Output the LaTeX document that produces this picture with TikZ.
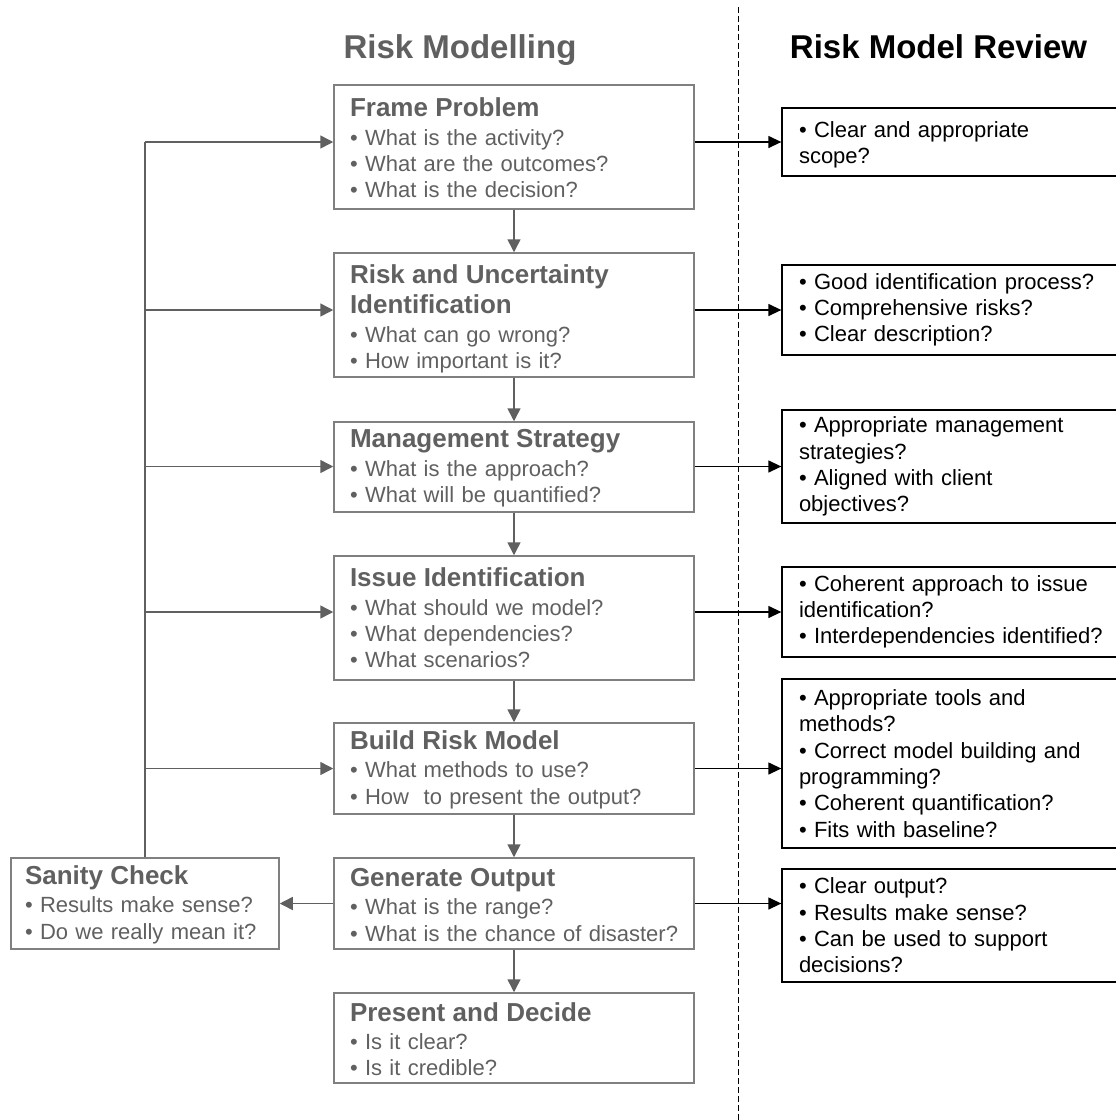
\documentclass[tikz,border=0pt]{standalone}
\usepackage{fontspec}
\setmainfont{Liberation Sans}
\usetikzlibrary{arrows.meta}
\definecolor{tgray}{RGB}{96,96,96}
\definecolor{bgray}{RGB}{128,128,128}
\newcommand\boxtitle[1]{{\fontsize{26}{26.3}\selectfont\bfseries #1}}
\begin{document}
\begin{tikzpicture}[x=1pt,y=-1pt,
  lbox/.style={draw=bgray, line width=1.5pt, text=tgray, align=left,
    text width=328pt, inner xsep=16pt, inner ysep=0pt,
    font=\fontsize{22}{26.3}\selectfont},
  sbox/.style={lbox, text width=240pt, inner xsep=14pt},
  rbox/.style={draw=black, line width=1.3pt, text=black, align=left,
    text width=314pt, inner xsep=17pt, inner ysep=0pt,
    font=\fontsize{22}{26.3}\selectfont},
  gline/.style={draw=tgray, line width=1.5pt},
  garrow/.style={gline, -{Triangle[length=13pt,width=13pt]}},
  barrow/.style={draw=black, line width=1.3pt, -{Triangle[length=13pt,width=12pt]}},
  divider/.style={draw=black, line width=1pt, dash pattern=on 6pt off 3pt},
  heading/.style={anchor=base, font=\fontsize{33}{38}\selectfont\bfseries}
]
\useasboundingbox (0,0) rectangle (1116,1120);

% headings
\node[heading, text=tgray] (h1) at (460,58) {Risk Modelling};
\node[heading, text=black] (h2) at (938.5,58) {Risk Model Review};

% divider
\coordinate (dtop) at (738,7);
\coordinate (dbot) at (738,1120);
\draw[divider] (dtop) -- (dbot);

% left column
\node[lbox, minimum height=124pt] (frame) at (514,147) {\rule{0pt}{21pt}\boxtitle{Frame Problem}\\[2pt]
• What is the activity?\\
• What are the outcomes?\\
• What is the decision?};
\node[lbox, minimum height=124pt] (riskid) at (514,315) {\rule{0pt}{27pt}\boxtitle{Risk and Uncertainty}\\[3.7pt]
\boxtitle{Identification}\\[2pt]
• What can go wrong?\\
• How important is it?};
\node[lbox, minimum height=90pt] (mgmt) at (514,467) {\rule{0pt}{21pt}\boxtitle{Management Strategy}\\[2pt]
• What is the approach?\\
• What will be quantified?};
\node[lbox, minimum height=124pt] (issue) at (514,618) {\boxtitle{Issue Identification}\\[2pt]
• What should we model?\\
• What dependencies?\\
• What scenarios?};
\node[lbox, minimum height=91pt] (build) at (514,768.5) {\rule{0pt}{21pt}\boxtitle{Build Risk Model}\\[2pt]
• What methods to use?\\
• How\ \ to present the output?};
\node[lbox, minimum height=91pt] (gen) at (514,903.5) {\rule{0pt}{21pt}\boxtitle{Generate Output}\\[2pt]
• What is the range?\\
\mbox{• What is the chance of disaster?}};
\node[lbox, minimum height=90pt] (present) at (514,1038) {\rule{0pt}{21pt}\boxtitle{Present and Decide}\\[2pt]
• Is it clear?\\
• Is it credible?};
\node[sbox, minimum height=91pt] (sanity) at (145,903.5) {\rule{0pt}{21pt}\boxtitle{Sanity Check}\\[2pt]
• Results make sense?\\
• Do we really mean it?};

% right column
\node[rbox, minimum height=68pt] (r1) at (956,142) {\rule{0pt}{22pt}• Clear and appropriate\\
scope?};
\node[rbox, minimum height=90pt] (r2) at (956,310) {• Good identification process?\\
• Comprehensive risks?\\
• Clear description?};
\node[rbox, minimum height=113pt] (r3) at (956,466.5) {• Appropriate management\\
strategies?\\
• Aligned with client\\
objectives?};
\node[rbox, minimum height=90pt] (r4) at (956,612) {• Coherent approach to issue\\
identification?\\
\mbox{• Interdependencies identified?}};
\node[rbox, minimum height=169pt] (r5) at (956,763.5) {• Appropriate tools and\\
methods?\\
• Correct model building and\\
programming?\\
• Coherent quantification?\\
• Fits with baseline?};
\node[rbox, minimum height=113pt] (r6) at (956,925.5) {• Clear output?\\
• Results make sense?\\
• Can be used to support\\
decisions?};

% main flow
\draw[garrow] (frame.south) -- (riskid.north);
\draw[garrow] (riskid.south) -- (mgmt.north);
\draw[garrow] (mgmt.south) -- (issue.north);
\draw[garrow] (issue.south) -- (build.north);
\draw[garrow] (build.south) -- (gen.north);
\draw[garrow] (gen.south) -- (present.north);
\draw[garrow] (gen.west) -- (sanity.east);

% feedback loop
\coordinate (f1) at (sanity.north |- r1.west);
\coordinate (f2) at (sanity.north |- r2.west);
\coordinate (f3) at (sanity.north |- r3.west);
\coordinate (f4) at (sanity.north |- r4.west);
\coordinate (f5) at (sanity.north |- build.west);
\draw[gline] (sanity.north) -- (f1);
\draw[garrow] (f1) -- (frame.west |- f1);
\draw[garrow] (f2) -- (riskid.west |- f2);
\draw[garrow] (f3) -- (mgmt.west |- f3);
\draw[garrow] (f4) -- (issue.west |- f4);
\draw[garrow] (f5) -- (build.west);

% review arrows
\draw[barrow] (frame.east |- r1.west) -- (r1.west);
\draw[barrow] (riskid.east |- r2.west) -- (r2.west);
\draw[barrow] (mgmt.east |- r3.west) -- (r3.west);
\draw[barrow] (issue.east |- r4.west) -- (r4.west);
\draw[barrow] (build.east) -- (r5.west |- build.east);
\draw[barrow] (gen.east) -- (r6.west |- gen.east);
\end{tikzpicture}
\end{document}
